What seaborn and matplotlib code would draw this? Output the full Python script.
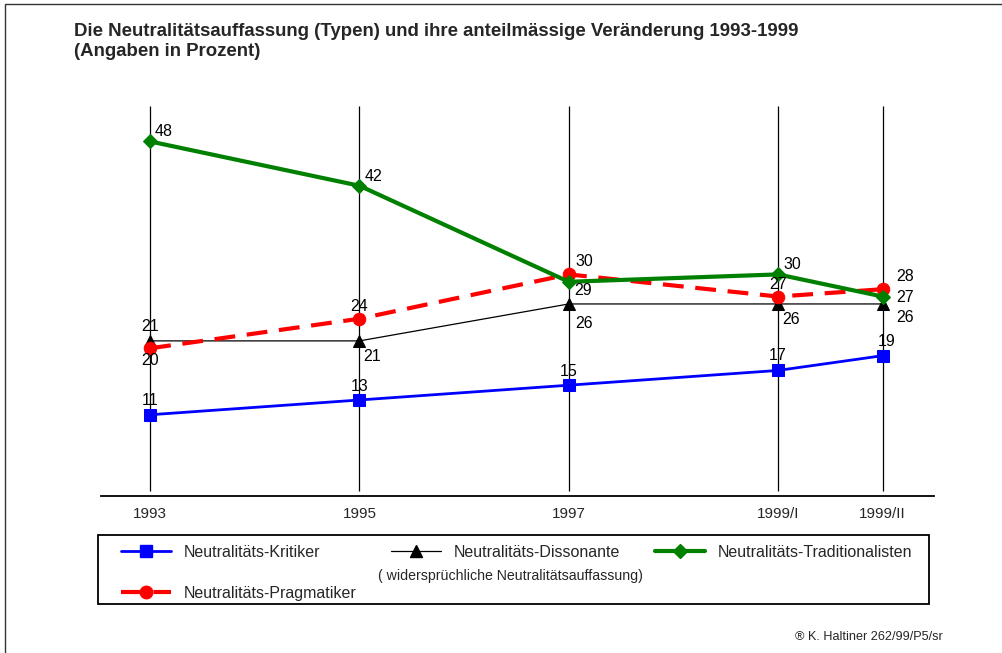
import matplotlib
matplotlib.use("Agg")
import matplotlib.pyplot as plt
from matplotlib.lines import Line2D
from matplotlib.patches import Rectangle
import seaborn as sns
import pandas as pd

# ---------------- data ----------------
survey_pos = [1993, 1995, 1997, 1999, 2000]
wave_labels = ["1993", "1995", "1997", "1999/I", "1999/II"]

kritiker = [11, 13, 15, 17, 19]
dissonante = [21, 21, 26, 26, 26]
pragmatiker = [20, 24, 30, 27, 28]
traditionalisten = [48, 42, 29, 30, 27]

series_names = ["Neutralitäts-Kritiker", "Neutralitäts-Dissonante",
                "Neutralitäts-Pragmatiker", "Neutralitäts-Traditionalisten"]

title_text = ("Die Neutralitätsauffassung (Typen) und ihre anteilmässige Veränderung 1993-1999\n"
              "(Angaben in Prozent)")
subtitle_dissonante = "( widersprüchliche Neutralitätsauffassung)"
footer_text = "® K. Haltiner 262/99/P5/sr"

# ---------------- style ----------------
sns.set_style("white")
plt.rcParams["font.family"] = ["Liberation Sans", "DejaVu Sans"]

W, H = 1002, 653
fig = plt.figure(figsize=(W / 100, H / 100), dpi=100)
ax = fig.add_axes([101 / W, 1 - 496 / H, (934 - 101) / W, (496 - 106) / H])

styles = {
    "Neutralitäts-Kritiker": dict(color="#0000ff", marker="s", linewidth=2.0, markersize=8.5, linestyle="-"),
    "Neutralitäts-Dissonante": dict(color="#000000", marker="^", linewidth=0.9, markersize=9, linestyle="-"),
    "Neutralitäts-Pragmatiker": dict(color="#ff0000", marker="o", linewidth=3.0, markersize=9, linestyle=(0, (5, 2.8))),
    "Neutralitäts-Traditionalisten": dict(color="#008000", marker="D", linewidth=3.0, markersize=7.5, linestyle="-"),
}

# label offsets in points (dx, dy) per point
offsets = {
    "Neutralitäts-Kritiker": [(0, 10), (0, 10), (0, 10), (0, 11), (3, 10)],
    "Neutralitäts-Dissonante": [(0, 10), (9, -11), (11, -14), (9, -11), (16, -10)],
    "Neutralitäts-Pragmatiker": [(0, -9), (0, 9), (11, 9), (0, 9), (16, 9)],
    "Neutralitäts-Traditionalisten": [(10, 7), (10, 7), (10, -6), (10, 7), (16, -1)],
}

values = {
    "Neutralitäts-Kritiker": kritiker,
    "Neutralitäts-Dissonante": dissonante,
    "Neutralitäts-Pragmatiker": pragmatiker,
    "Neutralitäts-Traditionalisten": traditionalisten,
}

# vertical guide lines
ax.vlines(survey_pos, 0.7, 52.8, color="black", linewidth=0.9, zorder=1)

for name in series_names:
    df = pd.DataFrame({"x": survey_pos, "y": values[name]})
    st = styles[name]
    sns.lineplot(data=df, x="x", y="y", ax=ax, color=st["color"], marker=st["marker"],
                 linewidth=st["linewidth"], markersize=st["markersize"],
                 linestyle=st["linestyle"], markeredgecolor=st["color"],
                 legend=False, zorder=3)
    for xv, yv, (dx, dy) in zip(survey_pos, values[name], offsets[name]):
        ax.annotate(str(yv), (xv, yv), xytext=(dx, dy), textcoords="offset points",
                    ha="center", va="center", fontsize=11.5, color="black", zorder=5)

ax.set_xlim(1992.53, 2000.49)
ax.set_ylim(0, 52.8)
ax.set_xticks(survey_pos)
ax.set_xticklabels(wave_labels, fontsize=11)
ax.set_yticks([])
ax.set_xlabel("")
ax.set_ylabel("")
ax.tick_params(axis="x", length=0, pad=8)
for s in ["top", "right", "left"]:
    ax.spines[s].set_visible(False)
ax.spines["bottom"].set_linewidth(1.3)
ax.spines["bottom"].set_color("black")

# title
fig.text(74 / W, 1 - 23 / H, title_text, fontsize=13.4, fontweight="bold",
         ha="left", va="top", linespacing=1.2)

# legend frame
fig.patches.append(Rectangle((98 / W, 1 - 604 / H), (929 - 98) / W, (604 - 535) / H,
                             transform=fig.transFigure, fill=False, edgecolor="black",
                             linewidth=1.3))

handles = []
for name in ["Neutralitäts-Kritiker", "Neutralitäts-Pragmatiker",
             "Neutralitäts-Dissonante", "Neutralitäts-Traditionalisten"]:
    st = styles[name]
    handles.append(Line2D([], [], color=st["color"], marker=st["marker"],
                          linewidth=st["linewidth"], markersize=st["markersize"],
                          linestyle=st["linestyle"], markeredgecolor=st["color"], label=name))
fig.legend(handles=handles, loc="upper left", bbox_to_anchor=(121 / W, 1 - 545 / H),
           ncol=3, frameon=False, fontsize=11.5, handlelength=3.1, handletextpad=0.8,
           columnspacing=2.2, labelspacing=1.6, borderpad=0, borderaxespad=0)

fig.text(378 / W, 1 - 576 / H, subtitle_dissonante, fontsize=10.2, ha="left", va="center")

# footer
fig.text(943 / W, 1 - 637 / H, footer_text, fontsize=9.1, ha="right", va="center")

# outer page frame
fig.patches.append(Rectangle((5 / W, -0.05), 1.2, 1 - 4 / H + 0.05,
                             transform=fig.transFigure, fill=False, edgecolor="#333333",
                             linewidth=1.0))

fig.savefig("out.png", dpi=100)
